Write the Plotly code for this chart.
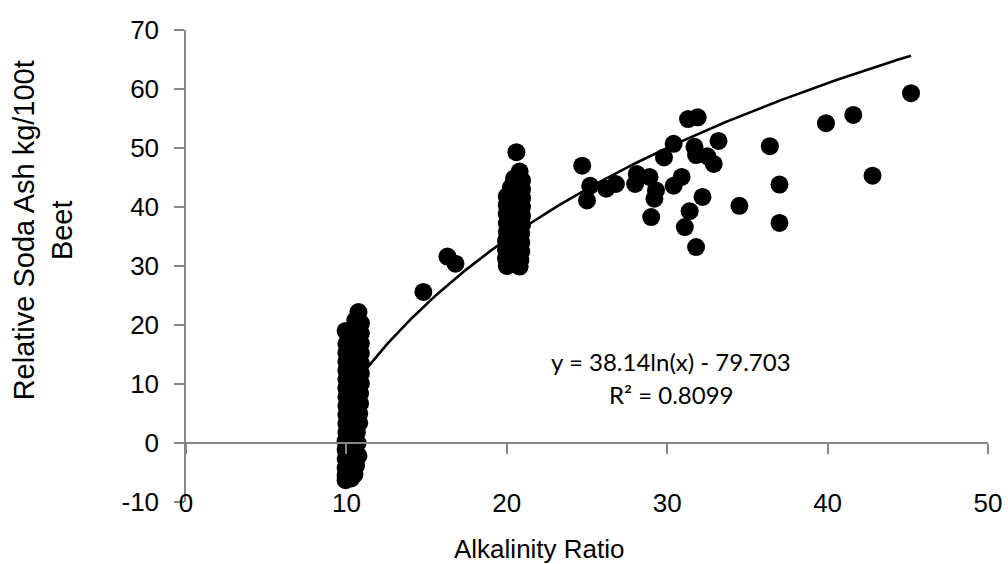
import numpy as np
import plotly.graph_objects as go

# Observations grouped by alkalinity-ratio band
ratio_low = [10.75, 10.55, 9.95, 10.15,
             10.9, 10.9, 10.9, 10.9, 10.9, 10.9, 10.9, 10.85, 10.85, 10.8, 10.8,
             10.0, 10.0, 10.0, 10.0, 10.0, 10.0, 10.0, 10.0, 10.0, 10.0, 10.0,
             9.95, 9.95, 9.95, 9.95, 9.95,
             10.45, 10.45, 10.45, 10.45, 10.45, 10.45, 10.4, 10.4, 10.35,
             10.65, 10.7, 10.75, 10.6, 10.5,
             9.95, 10.3]
ash_low = [22.2, 20.8, 19.0, 18.0,
           20.3, 18.6, 16.9, 15.2, 13.5, 11.8, 10.1, 8.4, 6.7, 5.0, 3.4,
           16.8, 15.3, 13.8, 12.3, 10.8, 9.3, 7.8, 6.3, 4.8, 3.3, 1.8,
           0.3, -1.2, -2.7, -4.2, -5.5,
           19.4, 16.1, 12.9, 9.7, 6.6, 3.5, 0.7, -1.9, -4.6,
           1.8, 0.0, -2.2, -3.9, -5.3,
           -6.3, -6.0]

ratio_mid = [20.6, 20.8, 20.45, 20.25,
             20.0, 20.0, 20.0, 20.0, 20.0, 19.95, 19.95, 19.95, 20.0,
             20.95, 20.95, 20.95, 20.95, 20.95, 20.95, 20.9, 20.9, 20.9, 20.85, 20.8,
             20.5, 20.5, 20.45, 20.45, 20.45, 20.4]
ash_mid = [49.3, 46.0, 44.8, 43.3,
           41.8, 40.3, 38.8, 37.3, 35.8, 34.3, 32.8, 31.3, 30.0,
           44.5, 43.0, 41.5, 40.0, 38.5, 37.0, 35.5, 34.0, 32.5, 31.0, 29.9,
           42.2, 39.6, 37.0, 34.4, 31.9, 30.3]

ratio_high = [14.8, 16.3, 16.8, 24.7, 25.2, 25.0, 26.2, 26.8, 28.1, 28.0,
              28.9, 29.3, 29.2, 29.0, 29.8, 30.4, 30.4, 30.9, 31.3, 31.9,
              31.7, 31.8, 33.2, 32.5, 32.9, 32.2, 31.4, 31.1, 31.8, 34.5,
              36.4, 37.0, 37.0, 39.9, 41.6, 42.8, 45.2]
ash_high = [25.6, 31.6, 30.4, 47.0, 43.6, 41.1, 43.1, 43.9, 45.6, 43.9,
            45.1, 42.8, 41.4, 38.3, 48.4, 50.7, 43.6, 45.1, 54.9, 55.2,
            50.2, 48.8, 51.2, 48.6, 47.3, 41.7, 39.3, 36.6, 33.2, 40.2,
            50.3, 43.8, 37.3, 54.2, 55.6, 45.3, 59.3]

# Logarithmic trendline: y = a*ln(x) + b
trend_a = 38.14
trend_b = -79.703
r_squared = 0.8099

x_ticks = [0, 10, 20, 30, 40, 50]
y_ticks = [-10, 0, 10, 20, 30, 40, 50, 60, 70]

ratio_all = ratio_low + ratio_mid + ratio_high
ash_all = ash_low + ash_mid + ash_high

trend_x = np.linspace(min(ratio_all), max(ratio_all), 200)
trend_y = trend_a * np.log(trend_x) + trend_b

AXIS_GREY = "#868686"
TICK_FONT = dict(family="Liberation Sans, Arial, sans-serif", size=26, color="#000000")
LABEL_FONT = dict(family="Lato, Carlito, Calibri, sans-serif", size=24, color="#000000")

fig = go.Figure()
fig.add_trace(go.Scatter(
    x=ratio_all, y=ash_all, mode="markers",
    marker=dict(color="#000000", size=18, line=dict(width=0)),
    showlegend=False, hoverinfo="x+y",
))
# trendline sits on the labelled bottom axis (same 0-50 range)
fig.add_trace(go.Scatter(
    x=trend_x, y=trend_y, mode="lines", xaxis="x2", yaxis="y",
    line=dict(color="#000000", width=2.6),
    showlegend=False, hoverinfo="skip",
))

fig.update_layout(
    width=1008, height=564,
    margin=dict(l=186, r=20, t=30, b=62),
    paper_bgcolor="#ffffff", plot_bgcolor="#ffffff",
    showlegend=False,
    # axis line that crosses at y = 0, ticks pointing down
    xaxis=dict(
        range=[0, 50], anchor="free", position=0.125, automargin=False,
        showline=True, linecolor=AXIS_GREY, linewidth=1.5,
        ticks="outside", ticklen=10, tickwidth=1.5, tickcolor=AXIS_GREY,
        tickvals=x_ticks, showticklabels=False,
        showgrid=False, zeroline=False,
    ),
    # tick labels along the bottom of the plot
    xaxis2=dict(
        range=[0, 50], overlaying="x", anchor="free", position=0.035,
        side="bottom", showline=False, ticks="", automargin=False,
        tickvals=x_ticks, ticktext=[str(v) for v in x_ticks],
        tickfont=TICK_FONT, showgrid=False, zeroline=False,
    ),
    yaxis=dict(
        range=[-10, 70], automargin=False,
        showline=True, linecolor=AXIS_GREY, linewidth=1.5,
        ticks="outside", ticklen=10, tickwidth=1.5, tickcolor=AXIS_GREY,
        tickvals=y_ticks, ticktext=[str(v) for v in y_ticks],
        tickfont=TICK_FONT, ticklabelstandoff=10,
        showgrid=False, zeroline=False,
    ),
    annotations=[
        dict(text="y = %.2fln(x) - %.3f" % (trend_a, -trend_b),
             xref="paper", yref="paper", x=0.605, y=0.298,
             xanchor="center", yanchor="middle", showarrow=False,
             font=LABEL_FONT),
        dict(text="R² = %.4f" % r_squared,
             xref="paper", yref="paper", x=0.605, y=0.227,
             xanchor="center", yanchor="middle", showarrow=False,
             font=LABEL_FONT),
        dict(text="Alkalinity Ratio",
             xref="paper", yref="paper", x=0.441, y=-0.0996,
             xanchor="center", yanchor="middle", showarrow=False,
             font=dict(family="Liberation Sans, Arial, sans-serif", size=26, color="#000000")),
        dict(text="Relative Soda Ash kg/100t<br>Beet",
             xref="paper", yref="paper", x=-0.178, y=0.576,
             xanchor="center", yanchor="middle", showarrow=False, textangle=-90,
             font=dict(family="Liberation Sans, Arial, sans-serif", size=29, color="#000000")),
    ],
)

fig.write_html("out.html")
